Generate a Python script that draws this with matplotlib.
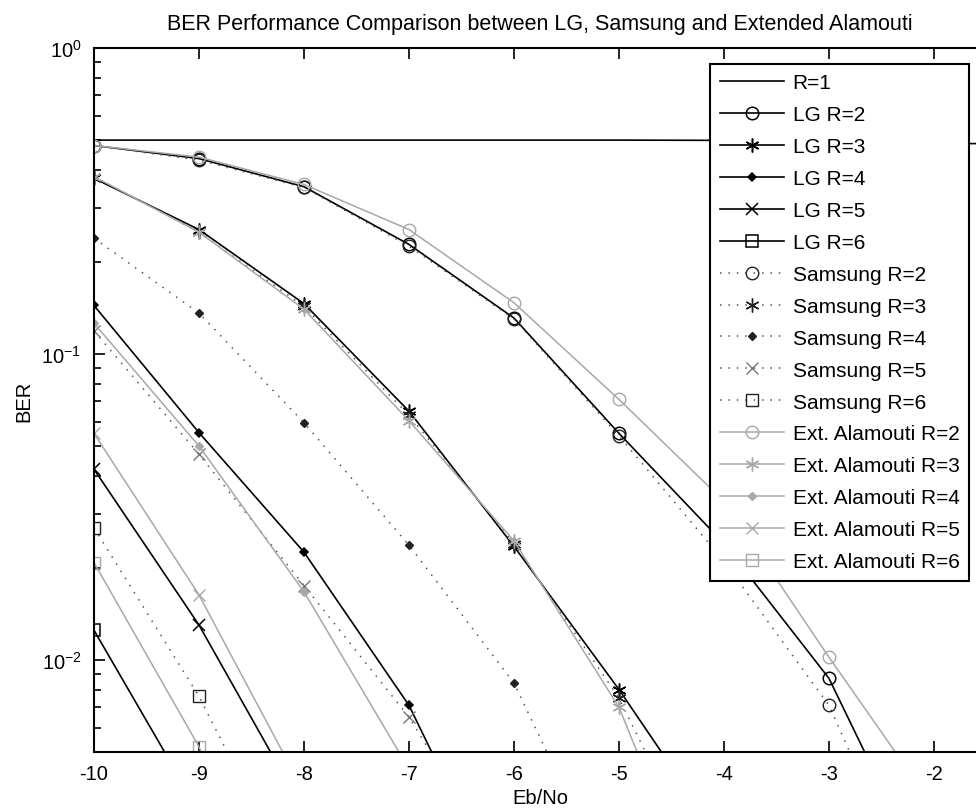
import numpy as np
import matplotlib
matplotlib.use("Agg")
import matplotlib.pyplot as plt

plt.rcParams['font.family'] = ['Liberation Sans', 'DejaVu Sans']

nan = np.nan
ebno = [-10, -9, -8, -7, -6, -5, -4, -3, -2, -1]

r1 = [0.5, 0.5, 0.5, 0.5, 0.5, 0.5, 0.499, 0.487, 0.487, 0.487]

lg2 = [0.48, 0.435, 0.352, 0.228, 0.131, 0.055, 0.024, 0.0087, 0.0017, nan]
lg3 = [0.375, 0.255, 0.146, 0.065, 0.0235, 0.008, 0.0025, nan, nan, nan]
lg4 = [0.144, 0.0553, 0.0225, 0.0071, 0.0014, nan, nan, nan, nan, nan]
lg5 = [0.042, 0.013, 0.0032, nan, nan, nan, nan, nan, nan, nan]
lg6 = [0.0125, 0.0032, nan, nan, nan, nan, nan, nan, nan, nan]

sam2 = [0.48, 0.43, 0.35, 0.225, 0.13, 0.054, 0.021, 0.0071, 0.0012, nan]
sam3 = [0.38, 0.25, 0.143, 0.063, 0.024, 0.0075, 0.0015, nan, nan, nan]
sam4 = [0.239, 0.136, 0.0596, 0.0237, 0.0084, 0.0016, nan, nan, nan, nan]
sam5 = [0.119, 0.047, 0.0175, 0.0065, 0.0018, nan, nan, nan, nan, nan]
sam6 = [0.027, 0.0076, 0.0016, nan, nan, nan, nan, nan, nan, nan]

ext2 = [0.48, 0.44, 0.358, 0.255, 0.147, 0.071, 0.033, 0.0102, 0.0033, nan]
ext3 = [0.38, 0.25, 0.140, 0.0605, 0.0245, 0.007, 0.001, nan, nan, nan]
ext4 = [0.126, 0.050, 0.0167, 0.0044, 0.001, nan, nan, nan, nan, nan]
ext5 = [0.055, 0.0163, 0.0037, nan, nan, nan, nan, nan, nan, nan]
ext6 = [0.0208, 0.0052, 0.0008, nan, nan, nan, nan, nan, nan, nan]

star = (6, 2, 0)
markers = ['o', star, 'D', 'x', 's']
msizes = [9, 10, 4, 8, 9]
rates = [2, 3, 4, 5, 6]

fig = plt.figure(figsize=(9.76, 8.12), dpi=100)
ax = fig.add_axes([94 / 976, 59 / 812, 892.5 / 976, 704 / 812])

ax.plot(ebno, r1, color='black', lw=1.2, label='R=1')

for r, y, m, ms in zip(rates, [lg2, lg3, lg4, lg5, lg6], markers, msizes):
    filled = m == 'D'
    ax.plot(ebno, y, color='black', lw=1.2, marker=m, ms=ms, mew=1.1,
            mfc='black' if filled else 'none', label='LG R=%d' % r)

for r, y, m, ms in zip(rates, [sam2, sam3, sam4, sam5, sam6], markers, msizes):
    filled = m == 'D'
    mc = '#777777' if r == 5 else '#222222'
    ax.plot(ebno, y, color='#555555', lw=1.1, ls=(0, (1, 4.5)), marker=m, ms=ms,
            mew=1.0, mec=mc, mfc=mc if filled else 'none',
            label='Samsung R=%d' % r)

for r, y, m, ms in zip(rates, [ext2, ext3, ext4, ext5, ext6], markers, msizes):
    filled = m == 'D'
    ax.plot(ebno, y, color='#a8a8a8', lw=1.1, marker=m, ms=ms, mew=1.0,
            mfc='#a8a8a8' if filled else 'none', label='Ext. Alamouti R=%d' % r)

ax.set_yscale('log')
ax.set_xlim(-10, -1.5)
ax.set_ylim(0.005, 1)
ax.set_xticks([-10, -9, -8, -7, -6, -5, -4, -3, -2])
ax.set_xticklabels(['-10', '-9', '-8', '-7', '-6', '-5', '-4', '-3', '-2'])
ax.tick_params(which='both', direction='in', top=True, right=True,
               labelsize=14.5, width=1.2)
ax.tick_params(which='major', length=8, pad=9)
ax.tick_params(which='minor', length=5)
for s in ax.spines.values():
    s.set_linewidth(1.5)

ax.set_xlabel('Eb/No', fontsize=14.5, labelpad=3)
ax.set_ylabel('BER', fontsize=14.5, labelpad=6)
ax.set_title('BER Performance Comparison between LG, Samsung and Extended Alamouti',
             fontsize=15.5, pad=14, x=0.5)

leg = ax.legend(loc='upper right', bbox_to_anchor=(969 / 976, 1 - 65 / 812),
                bbox_transform=fig.transFigure, borderaxespad=0, fontsize=15,
                fancybox=False, edgecolor='black', framealpha=1,
                handlelength=3.1, handletextpad=0.4, labelspacing=0.62,
                borderpad=0.45)
leg.get_frame().set_linewidth(1.5)

fig.savefig('out.png', dpi=100)
